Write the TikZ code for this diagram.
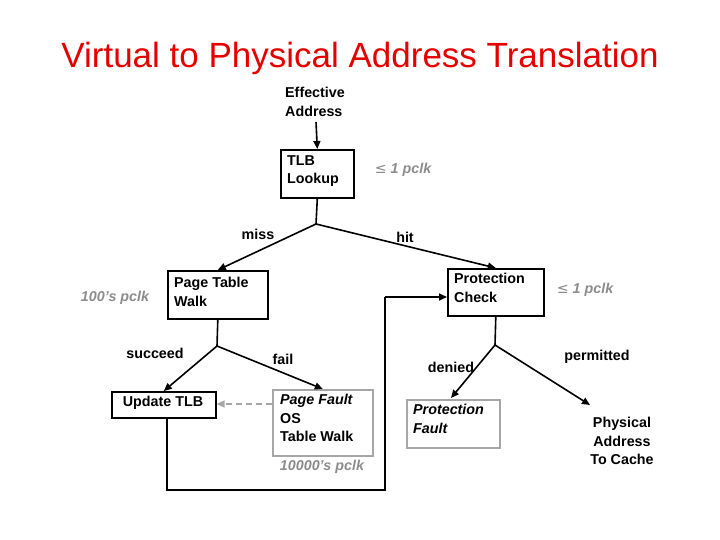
\documentclass[tikz,border=0pt]{standalone}
\usepackage{fontspec}
\setmainfont{Liberation Sans}
\newfontfamily\dv{DejaVu Sans}
\usetikzlibrary{arrows.meta}
\begin{document}
\begin{tikzpicture}[x=1pt,y=-1pt,
 txt/.style={font=\fontsize{14.3}{18.5}\selectfont\bfseries,align=left,inner sep=0pt},
 gtxt/.style={font=\fontsize{14.3}{18}\selectfont\bfseries\itshape,text=gray!90,inner sep=0pt},
 ln/.style={line width=1.6pt},
 ar/.style={line width=1.6pt,-{Triangle[length=8pt,width=7pt]}}]
\useasboundingbox (0,0) rectangle (720,540);
\node[text=red!90!black,font=\fontsize{35}{40}\selectfont] (title) at (360,58) {Virtual to Physical Address Translation};
\node[txt,anchor=north west] (ea) at (285,87) {Effective\\Address};
\node[draw,line width=1.6pt,minimum width=73pt,minimum height=48pt,anchor=north west] (tlb) at (280,149) {};
\node[txt,anchor=north west] (tlbt) at (287,155) {TLB\\Lookup};
\coordinate (eab) at (316,122);
\draw[ar] (eab) -- (tlb.north);
\node[gtxt] (c1) at (403,170) {{\dv\mdseries ≤} 1 pclk};
\coordinate (s1) at (316,224);
\draw[ln] (tlb.south) -- (s1);
\node[draw,line width=1.6pt,minimum width=100pt,minimum height=48pt,anchor=north west] (ptw) at (167,270) {};
\node[txt,anchor=north west] (ptwt) at (174,277) {Page Table\\Walk};
\node[draw,line width=1.6pt,minimum width=96pt,minimum height=47pt,anchor=north west] (pc) at (447,268) {};
\node[txt,anchor=north west] (pct) at (454,273) {Protection\\Check};
\draw[ar] (s1) -- (ptw.north);
\draw[ar] (s1) -- (pc.north);
\node[txt] (miss) at (258,234) {miss};
\node[txt] (hit) at (405,237) {hit};
\node[gtxt] (c2) at (115,298) {100's pclk};
\node[gtxt] (c3) at (585,290) {{\dv\mdseries ≤} 1 pclk};
\coordinate (s2) at (217,346);
\draw[ln] (ptw.south) -- (s2);
\node[draw,line width=1.6pt,minimum width=104pt,minimum height=26pt,anchor=north west] (ut) at (111,391) {};
\node[txt] (utt) at (163,403) {Update TLB};
\node[draw=gray!70,line width=1.6pt,minimum width=100pt,minimum height=66pt,anchor=north west] (pf) at (272,389) {};
\node[txt,anchor=north west] (pft) at (280,394) {\itshape Page Fault\\OS\\Table Walk};
\draw[ar] (s2) -- (ut.north);
\draw[ar] (s2) -- (pf.north);
\node[txt] (succ) at (155,353) {succeed};
\node[txt] (fail) at (283,359) {fail};
\draw[line width=1.6pt,gray!70,dash pattern=on 6pt off 4pt,-{Triangle[length=8pt,width=7pt]}] (pf.west |- 0,404) -- (ut.east |- 0,404);
\node[gtxt] (c4) at (322,467) {10000's pclk};
\coordinate (b1) at (167,490);
\coordinate (b2) at (385,490);
\coordinate (b3) at (385,297);
\draw[ln] (ut.south -| b1) -- (b1) -- (b2) -- (b3);
\draw[ar] (b3) -- (pc.west |- b3);
\coordinate (s3) at (495,345);
\draw[ln] (pc.south) -- (s3);
\node[draw=gray!70,line width=1.6pt,minimum width=93pt,minimum height=48pt,anchor=north west] (pf2) at (406,399) {};
\node[txt,anchor=north west] (pf2t) at (413,404) {\itshape Protection\\\itshape Fault};
\node[txt,align=center] (pa) at (622,441) {Physical\\Address\\To Cache};
\draw[ar] (s3) -- (451,398);
\draw[ar] (s3) -- (590,405);
\node[txt] (den) at (451,367) {denied};
\node[txt] (perm) at (597,357) {permitted};
\end{tikzpicture}
\end{document}
